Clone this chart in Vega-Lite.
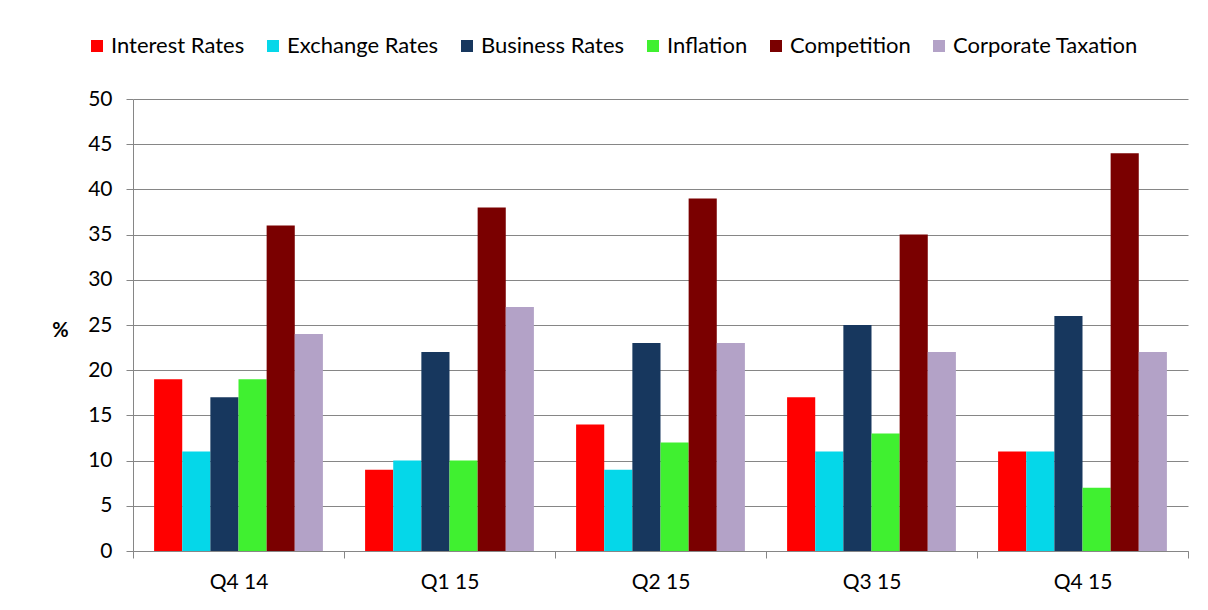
{
  "$schema": "https://vega.github.io/schema/vega-lite/v6.json",
  "width": 1055,
  "height": 452,
  "autosize": {"type": "none"},
  "padding": {"left": 133, "top": 99, "right": 20, "bottom": 59},
  "background": "white",
  "config": {
    "font": "Lato",
    "view": {"stroke": null},
    "axis": {"labelFont": "Lato", "labelFontSize": 21, "labelColor": "#000000", "domainColor": "#868686", "tickColor": "#868686", "gridColor": "#868686"}
  },
  "data": {
    "values": [
      {"q": "Q4 14", "s": "Interest Rates", "v": 19},
      {"q": "Q4 14", "s": "Exchange Rates", "v": 11},
      {"q": "Q4 14", "s": "Business Rates", "v": 17},
      {"q": "Q4 14", "s": "Inflation", "v": 19},
      {"q": "Q4 14", "s": "Competition", "v": 36},
      {"q": "Q4 14", "s": "Corporate Taxation", "v": 24},
      {"q": "Q1 15", "s": "Interest Rates", "v": 9},
      {"q": "Q1 15", "s": "Exchange Rates", "v": 10},
      {"q": "Q1 15", "s": "Business Rates", "v": 22},
      {"q": "Q1 15", "s": "Inflation", "v": 10},
      {"q": "Q1 15", "s": "Competition", "v": 38},
      {"q": "Q1 15", "s": "Corporate Taxation", "v": 27},
      {"q": "Q2 15", "s": "Interest Rates", "v": 14},
      {"q": "Q2 15", "s": "Exchange Rates", "v": 9},
      {"q": "Q2 15", "s": "Business Rates", "v": 23},
      {"q": "Q2 15", "s": "Inflation", "v": 12},
      {"q": "Q2 15", "s": "Competition", "v": 39},
      {"q": "Q2 15", "s": "Corporate Taxation", "v": 23},
      {"q": "Q3 15", "s": "Interest Rates", "v": 17},
      {"q": "Q3 15", "s": "Exchange Rates", "v": 11},
      {"q": "Q3 15", "s": "Business Rates", "v": 25},
      {"q": "Q3 15", "s": "Inflation", "v": 13},
      {"q": "Q3 15", "s": "Competition", "v": 35},
      {"q": "Q3 15", "s": "Corporate Taxation", "v": 22},
      {"q": "Q4 15", "s": "Interest Rates", "v": 11},
      {"q": "Q4 15", "s": "Exchange Rates", "v": 11},
      {"q": "Q4 15", "s": "Business Rates", "v": 26},
      {"q": "Q4 15", "s": "Inflation", "v": 7},
      {"q": "Q4 15", "s": "Competition", "v": 44},
      {"q": "Q4 15", "s": "Corporate Taxation", "v": 22}
    ]
  },
  "mark": {"type": "bar"},
  "encoding": {
    "x": {
      "field": "q", "type": "nominal", "sort": null,
      "scale": {"paddingInner": 0, "paddingOuter": 0},
      "axis": {"title": null, "labelAngle": 0, "tickBand": "extent", "tickSize": 7, "labelPadding": 13, "grid": false}
    },
    "xOffset": {
      "field": "s", "type": "nominal", "sort": null,
      "scale": {"paddingInner": 0, "paddingOuter": 0.75}
    },
    "y": {
      "field": "v", "type": "quantitative",
      "scale": {"domain": [0, 50], "nice": false},
      "axis": {"values": [0, 5, 10, 15, 20, 25, 30, 35, 40, 45, 50], "tickSize": 7, "labelPadding": 14, "grid": true, "title": "%", "titleAngle": 0, "titleFont": "Lato", "titleFontSize": 20, "titleFontWeight": "bold", "titleColor": "#000000", "titleX": -73, "titleY": 231, "titleAlign": "center", "titleBaseline": "middle"}
    },
    "color": {
      "field": "s", "type": "nominal", "sort": null,
      "scale": {
        "domain": ["Interest Rates", "Exchange Rates", "Business Rates", "Inflation", "Competition", "Corporate Taxation"],
        "range": ["#FF0000", "#05D7E9", "#17375E", "#40F030", "#7A0000", "#B3A2C7"]
      },
      "legend": {
        "title": null, "orient": "none", "direction": "horizontal",
        "legendX": -47, "legendY": -64,
        "symbolType": "square", "symbolSize": 144, "symbolStrokeWidth": 0, "symbolOpacity": 1,
        "labelFont": "Lato", "labelFontSize": 22, "labelColor": "#000000", "labelOffset": 3, "labelLimit": 400,
        "columnPadding": 17
      }
    }
  }
}
